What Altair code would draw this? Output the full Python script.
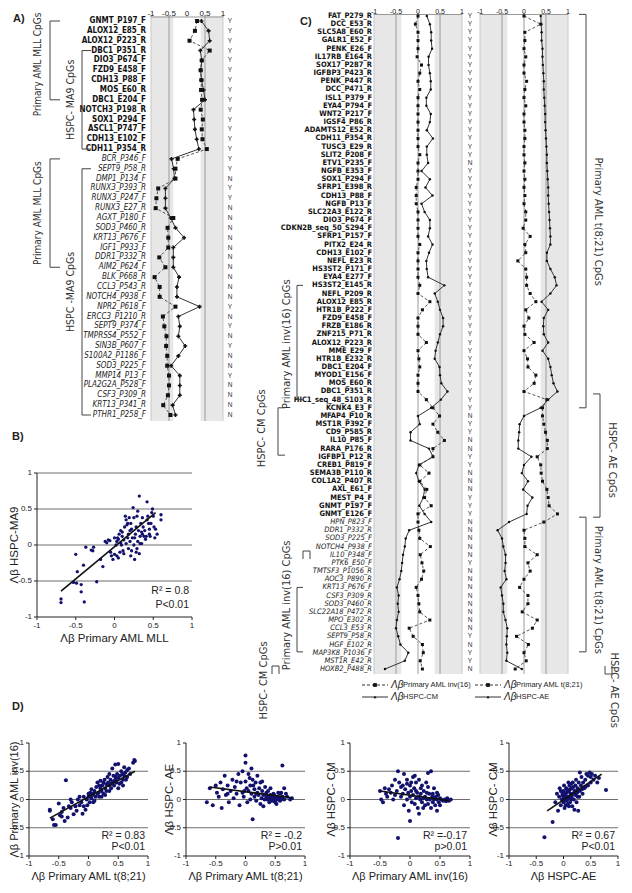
import altair as alt
import pandas as pd

OFF = 8
NARROW = "Liberation Sans Narrow, DejaVu Sans Condensed, Arial Narrow, sans-serif"
SANS = "Liberation Sans, Arial, Helvetica, sans-serif"
NAVY = "#12126e"
BAND = 0.38

tick_vals = [-1, -0.5, 0, 0.5, 1]
tick_labs = ["-1", "-0.5", "0", "0.5", "1"]

# ---------------- Panel A ----------------
a_genes = ["GNMT_P197_F", "ALOX12_E85_R", "ALOX12_P223_R", "DBC1_P351_R", "DIO3_P674_F", "FZD9_E458_F",
           "CDH13_P88_F", "MOS_E60_R", "DBC1_E204_F", "NOTCH3_P198_R", "SOX1_P294_F", "ASCL1_P747_F",
           "CDH13_E102_F", "CDH11_P354_R",
           "BCR_P346_F", "SEPT9_P58_R", "DMP1_P134_F", "RUNX3_P393_R", "RUNX3_P247_F", "RUNX3_E27_R",
           "AGXT_P180_F", "SOD3_P460_R", "KRT13_P676_F", "IGF1_P933_F", "DDR1_P332_R", "AIM2_P624_F",
           "BLK_P668_R", "CCL3_P543_R", "NOTCH4_P938_F", "NPR2_P618_F", "ERCC3_P1210_R", "SEPT9_P374_F",
           "TMPRSS4_P552_F", "SIN3B_P607_F", "S100A2_P1186_F", "SOD3_P225_F", "MMP14_P13_F",
           "PLA2G2A_P528_F", "CSF3_P309_R", "KRT13_P341_R", "PTHR1_P258_F"]
a_aml = [0.28, 0.22, 0.07, 0.63, 0.41, 0.38, 0.40, 0.39, 0.42, 0.38, 0.44, 0.41, 0.43, 0.55,
         -0.26, -0.32, -0.32, -0.80, -0.85, -0.87, -0.38, -0.54, -0.52, -0.52, -0.77, -0.60, -0.90,
         -0.76, -0.76, -0.32, -0.67, -0.63, -0.57, -0.58, -0.55, -0.55, -0.50, -0.50, -0.53, -0.66, -0.46]
a_hspc = [0.40, 0.60, 0.63, 0.37, 0.41, 0.38, 0.40, 0.46, 0.50, 0.18, 0.20, 0.22, 0.27, 0.33,
          -0.43, -0.37, -0.35, -0.60, -0.60, -0.60, -0.45, -0.32, -0.08, -0.38, -0.38, -0.38, -0.22,
          -0.28, -0.28, 0.35, -0.24, -0.20, -0.24, -0.05, -0.24, -0.44, -0.20, -0.20, -0.20, -0.40, -0.32]
a_sig = list("YYYYYYYYYYYYYY") + list("YYNYYNNNNNNNNNNYNYNYNNYNNNN")
a_groups = [("Primary AML MLL CpGs", 0, 8, "outer"), ("HSPC- MA9 CpGs", 3, 13, "inner"),
            ("Primary AML MLL CpGs", 14, 25, "outer"), ("HSPC -MA9 CpGs", 15, 40, "inner")]

# ---------------- Panel C ----------------
c_genes = ["FAT_P279_R", "DCC_E53_R", "SLC5A8_E60_R", "GALR1_E52_F", "PENK_E26_F", "IL17RB_E164_R",
           "SOX17_P287_R", "IGFBP3_P423_R", "PENK_P447_R", "DCC_P471_R",
           "ISL1_P379_F", "EYA4_P794_F", "WNT2_P217_F", "IGSF4_P86_R", "ADAMTS12_E52_R", "CDH11_P354_R",
           "TUSC3_E29_R", "SLIT2_P208_F", "ETV1_P235_F", "NGFB_E353_F",
           "SOX1_P294_F", "SFRP1_E398_R", "CDH13_P88_F", "NGFB_P13_F", "SLC22A3_E122_R", "DIO3_P674_F",
           "CDKN2B_seq_50_S294_F", "SFRP1_P157_F", "PITX2_E24_R", "CDH13_E102_F",
           "NEFL_E23_R", "HS3ST2_P171_F", "EYA4_E277_F", "HS3ST2_E145_R", "NEFL_P209_R", "ALOX12_E85_R",
           "HTR1B_P222_F", "FZD9_E458_F", "FRZB_E186_R", "ZNF215_P71_R",
           "ALOX12_P223_R", "MME_E29_F", "HTR1B_E232_R", "DBC1_E204_F", "MYOD1_E156_F", "MOS_E60_R",
           "DBC1_P351_R", "HIC1_seq_48_S103_R", "KCNK4_E3_F", "MFAP4_P10_R",
           "MST1R_P392_F", "CD9_P585_R", "IL10_P85_F", "RARA_P176_R", "IGFBP1_P12_R", "CREB1_P819_F",
           "SEMA3B_P110_R", "COL1A2_P407_R", "AXL_E61_F", "MEST_P4_F",
           "GNMT_P197_F", "GNMT_E126_F", "HPN_P823_F", "DDR1_P332_R", "SOD3_P225_F", "NOTCH4_P938_F",
           "IL10_P348_F", "PTK6_E50_F", "TMTSF3_P1056_R", "AOC3_P890_R",
           "KRT13_P676_F", "CSF3_P309_R", "SOD3_P460_R", "SLC22A18_P472_R", "MPO_E302_R", "CCL3_E53_R",
           "SEPT9_P58_R", "HGF_E102_R", "MAP3K8_P1036_F", "MST1R_E42_R",
           "HOXB2_P488_R"]
c_inv16 = [0.0, -0.06, 0.0, 0.0, 0.0, -0.02, 0.08, 0.04, 0.0, 0.04,
           0.0, 0.0, 0.0, 0.0, 0.0, 0.0, 0.0, 0.04, 0.0, 0.0,
           0.0, -0.04, -0.04, -0.04, 0.0, 0.0, 0.0, 0.0, 0.04, 0.0,
           0.0, 0.0, 0.0, 0.04, 0.0, 0.27, 0.10, 0.0, 0.0, 0.0,
           0.19, 0.0, 0.02, 0.04, 0.0, 0.0, 0.0, 0.19, 0.34, 0.49,
           0.34, 0.45, 0.60, 0.34, 0.34, 0.04, 0.25, 0.04, 0.20, 0.15,
           0.30, 0.0, 0.0, 0.02, 0.04, 0.28, 0.05, 0.09, 0.13, 0.08,
           -0.04, 0.0, 0.02, 0.04, 0.27, -0.20, -0.11, 0.10, 0.12, 0.05,
           0.10]
c_cm = [0.20, 0.27, 0.30, 0.30, 0.32, 0.24, 0.24, 0.27, 0.29, 0.29,
        0.19, 0.19, 0.29, 0.27, 0.20, 0.34, 0.20, 0.20, 0.23, 0.08,
        0.27, 0.17, 0.33, 0.08, 0.15, 0.27, 0.27, 0.23, 0.33, 0.25,
        0.19, 0.20, 0.23, 0.60, 0.38, 0.45, 0.50, 0.57, 0.57, 0.50,
        0.45, 0.40, 0.38, 0.49, 0.50, 0.53, 0.67, 0.52, 0.30, 0.0,
        0.04, -0.17, -0.17, 0.25, 0.34, 0.02, -0.04, 0.02, 0.15, 0.12,
        0.03, 0.15, 0.30, -0.20, -0.28, -0.30, -0.34, -0.36, -0.38, -0.42,
        -0.48, -0.44, -0.46, -0.44, -0.48, -0.50, -0.45, -0.40, -0.22, -0.30,
        -0.75]
c_t821 = [0.0, 0.38, 0.02, 0.02, 0.0, 0.04, 0.0, 0.0, 0.06, 0.02,
          0.0, 0.04, 0.0, 0.0, 0.02, 0.02, 0.0, 0.0, 0.02, 0.0,
          0.02, 0.0, 0.02, 0.0, 0.04, 0.04, -0.02, 0.14, 0.02, 0.04,
          -0.14, 0.04, 0.06, 0.06, 0.14, 0.27, 0.04, 0.11, 0.0, 0.02,
          0.23, 0.0, 0.08, 0.09, 0.27, 0.23, 0.0, 0.52, 0.42, 0.42,
          0.45, 0.49, 0.53, 0.53, 0.30, 0.38, 0.39, 0.42, 0.52, 0.55,
          0.57, 0.76, 0.45, 0.0, 0.02, 0.02, 0.30, 0.09, 0.14, 0.0,
          -0.10, 0.09, 0.09, -0.04, 0.30, 0.19, -0.17, 0.10, 0.0, 0.05,
          -0.20]
c_ae = [0.38, 0.39, 0.40, 0.40, 0.42, 0.42, 0.43, 0.44, 0.45, 0.45,
        0.46, 0.47, 0.48, 0.48, 0.49, 0.50, 0.51, 0.52, 0.52, 0.53,
        0.54, 0.55, 0.55, 0.56, 0.57, 0.58, 0.59, 0.60, 0.60, 0.52,
        0.52, 0.60, 0.70, 0.74, 0.60, 0.40, 0.55, 0.45, 0.44, 0.45,
        0.55, 0.42, 0.55, 0.60, 0.63, 0.67, 0.76, 0.55, 0.38, 0.0,
        -0.10, -0.11, -0.13, -0.13, 0.17, 0.0, -0.05, 0.09, -0.02, 0.19,
        0.08, 0.06, -0.34, -0.60, -0.50, -0.47, -0.42, -0.42, -0.44, -0.40,
        -0.53, -0.50, -0.47, -0.47, -0.42, -0.38, -0.39, -0.40, -0.38, -0.40,
        -0.05]
c_sig = list("YYYYYYYYYYYYYYYYYY") + ["N"] + ["Y"] * 30 + list("NYYNNYYNNNYYYNNNNNYNNNNNNNNYNYYN")
N_C_BOLD = 62

# ---------------- Scatter data ----------------
b_points = [(-0.69, -0.75), (-0.69, -0.80), (-0.43, -0.65), (-0.39, -0.79), (-0.49, -0.53), (-0.43, -0.55),
            (-0.53, -0.52), (-0.48, -0.37), (-0.50, -0.13), (-0.40, -0.28), (-0.37, -0.03), (-0.30, -0.07),
            (-0.27, -0.03), (-0.28, -0.08), (-0.23, -0.51), (-0.18, -0.20), (-0.15, -0.30), (-0.12, 0.05),
            (-0.10, 0.03), (-0.05, -0.10), (-0.04, -0.15), (-0.02, -0.20), (0.00, -0.13), (0.02, 0.00),
            (0.03, 0.05), (0.04, 0.10), (0.05, 0.08), (0.05, -0.18), (0.06, 0.15), (0.07, -0.10),
            (0.08, 0.03), (0.10, 0.12), (0.10, 0.18), (0.12, 0.07), (0.12, -0.12), (0.13, 0.25),
            (0.14, 0.40), (0.15, 0.35), (0.15, 0.02), (0.17, 0.10), (0.18, -0.05), (0.18, 0.15),
            (0.20, 0.20), (0.20, 0.05), (0.21, 0.30), (0.22, -0.08), (0.23, 0.10), (0.24, 0.52),
            (0.25, 0.38), (0.25, 0.00), (0.26, -0.20), (0.27, 0.15), (0.28, 0.25), (0.28, -0.10),
            (0.29, 0.40), (0.30, 0.05), (0.30, 0.47), (0.31, 0.20), (0.32, 0.68), (0.32, -0.12),
            (0.33, 0.12), (0.34, 0.30), (0.35, 0.18), (0.35, 0.02), (0.36, 0.15), (0.37, 0.25),
            (0.38, 0.12), (0.40, 0.08), (0.42, 0.60), (0.42, 0.35), (0.43, 0.40), (0.45, 0.15),
            (0.45, 0.22), (0.47, 0.30), (0.48, 0.45), (0.49, 0.50), (0.50, 0.40), (0.51, 0.25),
            (0.52, 0.10), (0.53, 0.22), (0.55, 0.15), (0.60, 0.42), (0.60, 0.35), (-0.08, 0.07),
            (0.00, 0.10), (0.08, 0.20), (0.16, 0.28), (0.19, 0.38), (0.11, -0.08), (-0.06, 0.06),
            (0.03, -0.15), (0.22, 0.22), (0.26, 0.10), (0.29, -0.05), (0.33, 0.02), (0.36, 0.38),
            (0.39, 0.20), (0.41, 0.12), (0.44, 0.30), (0.46, 0.12), (0.21, -0.15), (0.09, 0.00), (0.17, 0.30)]
b_fit = (-0.69, -0.64, 0.53, 0.45)

d1_points = [(-0.65, -0.18), (-0.65, -0.20), (-0.60, -0.35), (-0.58, -0.45), (-0.55, -0.45), (-0.50, -0.07),
             (-0.48, -0.28), (-0.45, -0.22), (-0.42, -0.15), (-0.40, -0.38), (-0.38, 0.34), (-0.35, -0.32),
             (-0.33, -0.12), (-0.30, -0.15), (-0.28, -0.05), (-0.25, -0.26), (-0.22, -0.12), (-0.20, -0.20),
             (-0.18, 0.00), (-0.15, -0.10), (-0.12, -0.05), (-0.10, -0.25), (-0.08, 0.05), (-0.05, -0.18),
             (-0.03, 0.00), (-0.02, -0.10), (0.00, 0.05), (0.00, 0.10), (0.02, -0.05), (0.03, 0.12),
             (0.05, 0.02), (0.05, 0.18), (0.07, 0.08), (0.08, -0.05), (0.10, 0.15), (0.12, 0.05),
             (0.13, 0.22), (0.15, 0.10), (0.15, 0.30), (0.17, 0.12), (0.18, 0.05), (0.20, 0.20),
             (0.20, 0.33), (0.22, 0.15), (0.23, 0.25), (0.25, 0.10), (0.25, 0.30), (0.27, 0.35),
             (0.28, 0.20), (0.30, 0.27), (0.30, 0.15), (0.32, 0.40), (0.33, 0.30), (0.35, 0.25),
             (0.35, 0.45), (0.37, 0.35), (0.38, 0.20), (0.40, 0.30), (0.40, 0.55), (0.42, 0.42),
             (0.43, 0.25), (0.45, 0.35), (0.45, 0.62), (0.47, 0.30), (0.48, 0.45), (0.50, 0.63),
             (0.50, 0.38), (0.52, 0.28), (0.53, 0.42), (0.55, 0.50), (0.55, 0.30), (0.57, 0.45),
             (0.58, 0.35), (0.60, 0.57), (0.60, 0.42), (0.62, 0.48), (0.63, 0.35), (0.65, 0.52),
             (0.65, 0.40), (0.68, 0.55), (0.70, 0.45), (0.75, 0.65), (0.77, 0.70), (0.78, 0.68),
             (-0.15, 0.05), (-0.08, -0.12), (0.02, 0.08), (0.10, -0.02), (0.18, 0.25), (0.28, 0.08),
             (0.35, 0.15), (0.42, 0.32), (0.50, 0.20), (0.58, 0.25), (-0.30, 0.00), (-0.45, -0.30),
             (0.08, 0.10), (0.22, 0.05), (0.38, 0.28), (0.46, 0.40)]
d1_fit = (-0.65, -0.33, 0.78, 0.50)

d2_points = [(-0.65, -0.05), (-0.60, 0.20), (-0.55, -0.10), (-0.50, 0.25), (-0.48, 0.12), (-0.45, 0.05),
             (-0.42, 0.30), (-0.40, -0.15), (-0.38, 0.18), (-0.35, 0.42), (-0.33, 0.08), (-0.30, 0.25),
             (-0.28, -0.05), (-0.25, 0.15), (-0.22, 0.35), (-0.20, 0.02), (-0.18, 0.22), (-0.15, 0.10),
             (-0.12, 0.45), (-0.10, -0.10), (-0.08, 0.30), (-0.05, 0.50), (-0.05, 0.12), (-0.03, 0.05),
             (0.00, 0.78), (0.00, 0.65), (0.00, 0.32), (0.02, 0.20), (0.03, -0.05), (0.05, 0.45),
             (0.05, 0.15), (0.07, 0.38), (0.08, 0.00), (0.10, 0.55), (0.10, 0.10), (0.12, -0.35),
             (0.13, 0.25), (0.15, 0.05), (0.15, 0.18), (0.17, 0.30), (0.18, -0.02), (0.20, 0.12),
             (0.20, 0.42), (0.22, 0.08), (0.23, 0.20), (0.25, -0.08), (0.25, 0.30), (0.27, 0.02),
             (0.28, 0.15), (0.30, 0.08), (0.30, -0.12), (0.32, 0.00), (0.33, 0.22), (0.35, 0.05),
             (0.35, 0.12), (0.37, 0.00), (0.38, 0.15), (0.40, 0.02), (0.40, -0.05), (0.42, 0.08),
             (0.43, 0.00), (0.45, 0.05), (0.45, -0.02), (0.47, 0.10), (0.48, 0.00), (0.50, 0.02),
             (0.50, -0.05), (0.52, 0.00), (0.53, 0.05), (0.55, 0.00), (0.55, 0.12), (0.57, 0.02),
             (0.58, -0.02), (0.60, 0.00), (0.62, 0.60), (0.62, 0.05), (0.65, 0.00), (0.65, 0.20),
             (0.68, 0.10), (0.70, 0.05), (0.75, 0.00), (0.78, 0.02), (-0.02, 0.15), (0.08, 0.25),
             (0.18, 0.10), (0.28, 0.32), (0.38, 0.05), (0.48, 0.08), (0.58, 0.10), (-0.15, 0.32),
             (-0.30, 0.10), (0.12, 0.35), (0.42, 0.20), (0.52, -0.08), (0.60, 0.12)]
d2_fit = (-0.60, 0.22, 0.78, 0.03)

d3_points = [(-0.50, 0.15), (-0.48, 0.00), (-0.45, -0.05), (-0.42, 0.20), (-0.40, 0.10), (-0.38, 0.05),
             (-0.35, 0.18), (-0.32, 0.12), (-0.30, 0.25), (-0.28, 0.00), (-0.25, 0.08), (-0.22, 0.15),
             (-0.20, 0.50), (-0.20, -0.68), (-0.18, 0.30), (-0.15, 0.05), (-0.15, 0.22), (-0.12, 0.10),
             (-0.10, 0.45), (-0.10, -0.10), (-0.08, 0.18), (-0.05, 0.35), (-0.05, 0.00), (-0.03, 0.12),
             (-0.02, -0.20), (0.00, -0.38), (0.00, 0.25), (0.00, 0.05), (0.02, 0.15), (0.03, -0.05),
             (0.05, 0.40), (0.05, 0.08), (0.07, 0.20), (0.08, -0.08), (0.10, 0.30), (0.10, 0.02),
             (0.12, 0.12), (0.13, -0.15), (0.15, 0.05), (0.15, 0.35), (0.17, 0.00), (0.18, 0.10),
             (0.20, -0.05), (0.20, 0.25), (0.22, 0.02), (0.23, 0.15), (0.25, -0.10), (0.25, 0.05),
             (0.27, 0.30), (0.28, 0.00), (0.30, 0.47), (0.30, -0.08), (0.32, 0.10), (0.33, 0.00),
             (0.35, 0.50), (0.35, -0.15), (0.37, 0.05), (0.38, -0.05), (0.40, 0.20), (0.40, 0.00),
             (0.42, -0.10), (0.43, 0.05), (0.45, 0.00), (0.45, -0.20), (0.47, 0.08), (0.48, -0.05),
             (0.50, 0.02), (0.50, -0.10), (0.52, 0.00), (0.55, -0.02), (0.58, 0.00), (0.60, -0.03),
             (0.62, 0.02), (0.65, -0.02), (0.68, 0.00), (-0.05, 0.28), (0.08, 0.42), (0.18, 0.20),
             (0.28, 0.12), (0.38, 0.10), (0.02, 0.30), (-0.25, 0.35), (0.15, -0.25), (0.30, 0.22),
             (0.45, 0.12), (0.10, 0.15), (-0.12, 0.25), (0.22, -0.15)]
d3_fit = (-0.50, 0.15, 0.65, -0.02)

d4_points = [(-0.35, -0.67), (-0.20, -0.40), (-0.15, -0.05), (-0.12, 0.10), (-0.10, -0.20), (-0.08, 0.05),
             (-0.05, 0.15), (-0.05, -0.10), (-0.03, 0.00), (-0.02, 0.08), (0.00, -0.05), (0.00, 0.05),
             (0.00, 0.15), (0.02, 0.00), (0.02, -0.15), (0.03, 0.10), (0.04, 0.05), (0.05, -0.02),
             (0.05, 0.20), (0.06, 0.12), (0.07, 0.00), (0.08, 0.05), (0.08, -0.08), (0.10, 0.15),
             (0.10, 0.02), (0.11, 0.25), (0.12, -0.05), (0.13, 0.10), (0.14, 0.00), (0.15, 0.20),
             (0.15, 0.05), (0.16, -0.12), (0.17, 0.30), (0.18, 0.10), (0.19, 0.00), (0.20, 0.15),
             (0.20, -0.18), (0.22, 0.08), (0.22, 0.25), (0.23, 0.35), (0.24, -0.05), (0.25, 0.12),
             (0.26, 0.20), (0.27, -0.20), (0.28, 0.30), (0.29, 0.05), (0.30, 0.48), (0.30, 0.15),
             (0.32, 0.25), (0.33, 0.40), (0.35, 0.10), (0.36, 0.30), (0.38, 0.20), (0.40, 0.35),
             (0.42, 0.45), (0.45, 0.25), (0.45, 0.42), (0.48, 0.48), (0.50, 0.30), (0.50, 0.40),
             (0.52, 0.45), (0.55, 0.35), (0.58, 0.42), (0.62, 0.30), (0.65, 0.38), (0.78, 0.17),
             (-0.07, 0.20), (0.01, 0.25), (0.09, 0.30), (0.04, -0.10), (0.12, 0.18), (0.18, 0.22),
             (0.26, 0.05), (0.34, 0.18), (0.40, 0.22), (0.06, 0.18), (0.14, 0.28), (-0.02, 0.12),
             (0.10, -0.12), (0.24, 0.15)]
d4_fit = (-0.30, -0.20, 0.70, 0.45)

# ---------------------------------------------------------------
layers = []
one = pd.DataFrame({"k": [0]})


def P(v):
    return v - OFF


def lin(d0, d1, p0, p1):
    return alt.Scale(domain=[d0, d1], range=[P(p0), P(p1)], nice=False, zero=False)


def text(t, x, y, size=11, angle=0, align="center", weight="normal", font=SANS, color="#222", style="normal",
         baseline="middle"):
    layers.append(alt.Chart(one).mark_text(text=t, fontSize=size, angle=angle, align=align, baseline=baseline,
                                           fontWeight=weight, font=font, color=color, fontStyle=style)
                  .encode(x=alt.value(P(x)), y=alt.value(P(y))))


def hrule(x0, x1, y, color="#444", dash=None, width=1):
    kw = dict(color=color, strokeWidth=width)
    if dash:
        kw["strokeDash"] = dash
    layers.append(alt.Chart(one).mark_rule(**kw).encode(x=alt.value(P(x0)), x2=alt.value(P(x1)),
                                                         y=alt.value(P(y))))


def vrule(x, y0, y1, color="#444", width=1):
    layers.append(alt.Chart(one).mark_rule(color=color, strokeWidth=width).encode(
        x=alt.value(P(x)), y=alt.value(P(y0)), y2=alt.value(P(y1))))


def bracket(ys, r0, r1, x, dx, color="#444"):
    seg = pd.DataFrame({"r0": [r0], "r1": [r1]})
    layers.append(alt.Chart(seg).mark_rule(color=color, strokeWidth=1).encode(
        x=alt.value(P(x)), y=alt.Y("r0:Q", scale=ys, axis=None), y2=alt.Y2("r1")))
    ends = pd.DataFrame({"r": [r0, r1]})
    layers.append(alt.Chart(ends).mark_rule(color=color, strokeWidth=1).encode(
        x=alt.value(P(x)), x2=alt.value(P(x + dx)), y=alt.Y("r:Q", scale=ys, axis=None)))


def row_text(ys, t, r, x, angle, size=11):
    d = pd.DataFrame({"r": [r], "t": [t]})
    layers.append(alt.Chart(d).mark_text(fontSize=size, angle=angle, font=NARROW, color="#333",
                                         align="center", baseline="middle").encode(
        x=alt.value(P(x)), y=alt.Y("r:Q", scale=ys, axis=None), text="t:N"))


def profile(df, n, xp, ys, dash_col, solid_col, grid_vals, axis_y, lab_y, lab_size, r_top,
            solid_shape, solid_size, sq_size):
    xs = lin(-1, 1, xp[0], xp[1])
    band = pd.DataFrame({"a": [-1, BAND], "b": [-BAND, 1], "r0": [r_top, r_top], "r1": [n - 0.4, n - 0.4]})
    layers.append(alt.Chart(band).mark_rect(color="#e7e7e7").encode(
        x=alt.X("a:Q", scale=xs, axis=None), x2=alt.X2("b"),
        y=alt.Y("r0:Q", scale=ys, axis=None), y2=alt.Y2("r1")))
    edge = pd.DataFrame({"v": [-1, 1], "r0": [r_top, r_top], "r1": [n - 0.4, n - 0.4]})
    layers.append(alt.Chart(edge).mark_rule(color="#c8c8c8", strokeWidth=1).encode(
        x=alt.X("v:Q", scale=xs, axis=None), y=alt.Y("r0:Q", scale=ys, axis=None), y2=alt.Y2("r1")))
    grid = pd.DataFrame({"v": grid_vals, "r0": [r_top] * len(grid_vals), "r1": [n - 0.4] * len(grid_vals)})
    layers.append(alt.Chart(grid).mark_rule(color="#9a9a9a", strokeWidth=1).encode(
        x=alt.X("v:Q", scale=xs, axis=None), y=alt.Y("r0:Q", scale=ys, axis=None), y2=alt.Y2("r1")))
    ticks = pd.DataFrame({"v": tick_vals, "lab": tick_labs})
    axl = pd.DataFrame({"a": [-1], "b": [1]})
    layers.append(alt.Chart(axl).mark_rule(color="#999", strokeWidth=1).encode(
        x=alt.X("a:Q", scale=xs, axis=None), x2=alt.X2("b"), y=alt.value(P(axis_y))))
    layers.append(alt.Chart(ticks).mark_rule(color="#999", strokeWidth=1).encode(
        x=alt.X("v:Q", scale=xs, axis=None), y=alt.value(P(axis_y - 2)), y2=alt.value(P(axis_y))))
    layers.append(alt.Chart(ticks).mark_text(fontSize=lab_size, font=SANS, color="#222",
                                             baseline="alphabetic").encode(
        x=alt.X("v:Q", scale=xs, axis=None), y=alt.value(P(lab_y)), text="lab:N"))
    layers.append(alt.Chart(df).mark_line(color="#444", strokeWidth=0.9, strokeDash=[3, 2]).encode(
        x=alt.X(dash_col + ":Q", scale=xs, axis=None), y=alt.Y("row:Q", scale=ys, axis=None), order="row:Q"))
    layers.append(alt.Chart(df).mark_square(color="#111", size=sq_size, opacity=1).encode(
        x=alt.X(dash_col + ":Q", scale=xs, axis=None), y=alt.Y("row:Q", scale=ys, axis=None)))
    layers.append(alt.Chart(df).mark_line(color="#333", strokeWidth=1).encode(
        x=alt.X(solid_col + ":Q", scale=xs, axis=None), y=alt.Y("row:Q", scale=ys, axis=None), order="row:Q"))
    layers.append(alt.Chart(df).mark_point(shape=solid_shape, size=solid_size, filled=True, color="#111",
                                           opacity=1).encode(
        x=alt.X(solid_col + ":Q", scale=xs, axis=None), y=alt.Y("row:Q", scale=ys, axis=None)))


def scatter(points, fit, xp, yp, r2, pv, ytitle, xtitle, ytitle_x, top_grid, pt_size, tsize=11.5,
            xt_dy=22, xt_size=11.5, tl_dy=5):
    xs = lin(-1, 1, xp[0], xp[1])
    ys = lin(-1, 1, yp[1], yp[0])
    gv = [0.5, 0, -0.5] + ([1] if top_grid else [])
    grid = pd.DataFrame({"v": gv, "a": [-1.0] * len(gv), "b": [1.0] * len(gv)})
    layers.append(alt.Chart(grid).mark_rule(color="#6e6e6e", strokeWidth=1).encode(
        y=alt.Y("v:Q", scale=ys, axis=None), x=alt.X("a:Q", scale=xs, axis=None), x2=alt.X2("b")))
    frame = pd.DataFrame({"x1": [-1, -1], "y1": [-1, -1], "x2": [-1, 1], "y2": [1, -1]})
    layers.append(alt.Chart(frame).mark_rule(color="#222", strokeWidth=1).encode(
        x=alt.X("x1:Q", scale=xs, axis=None), y=alt.Y("y1:Q", scale=ys, axis=None),
        x2=alt.X2("x2"), y2=alt.Y2("y2")))
    ticks = pd.DataFrame({"v": tick_vals, "lab": tick_labs})
    layers.append(alt.Chart(ticks).mark_rule(color="#222").encode(
        y=alt.Y("v:Q", scale=ys, axis=None), x=alt.value(P(xp[0] - 3)), x2=alt.value(P(xp[0]))))
    layers.append(alt.Chart(ticks).mark_rule(color="#222").encode(
        x=alt.X("v:Q", scale=xs, axis=None), y=alt.value(P(yp[1])), y2=alt.value(P(yp[1] + 3))))
    layers.append(alt.Chart(ticks).mark_text(align="right", baseline="middle", font=SANS, fontSize=8,
                                             color="#222").encode(
        y=alt.Y("v:Q", scale=ys, axis=None), x=alt.value(P(xp[0] - 5)), text="lab:N"))
    layers.append(alt.Chart(ticks).mark_text(align="center", baseline="top", font=SANS, fontSize=8,
                                             color="#222").encode(
        x=alt.X("v:Q", scale=xs, axis=None), y=alt.value(P(yp[1] + tl_dy)), text="lab:N"))
    pts = pd.DataFrame(points, columns=["x", "y"])
    layers.append(alt.Chart(pts).mark_circle(size=pt_size, color=NAVY, opacity=1).encode(
        x=alt.X("x:Q", scale=xs, axis=None), y=alt.Y("y:Q", scale=ys, axis=None)))
    fd = pd.DataFrame([fit], columns=["x1", "y1", "x2", "y2"])
    layers.append(alt.Chart(fd).mark_rule(color="#111", strokeWidth=1.6).encode(
        x=alt.X("x1:Q", scale=xs, axis=None), y=alt.Y("y1:Q", scale=ys, axis=None),
        x2=alt.X2("x2"), y2=alt.Y2("y2")))
    td = pd.DataFrame({"y": [-0.64, -0.84], "t": [r2, pv]})
    layers.append(alt.Chart(td).mark_text(align="right", baseline="middle", font=SANS, fontSize=10.5,
                                          color="#222").encode(
        y=alt.Y("y:Q", scale=ys, axis=None), x=alt.value(P(xp[1] - 3)), text="t:N"))
    text(ytitle, ytitle_x, (yp[0] + yp[1]) / 2, size=tsize, angle=270)
    text(xtitle, (xp[0] + xp[1]) / 2, yp[1] + xt_dy, size=xt_size)


# ---------------- Panel A build ----------------
dfA = pd.DataFrame({"gene": a_genes, "row": list(range(len(a_genes))), "aml": a_aml, "hspc": a_hspc,
                    "sig": a_sig})
nA = len(a_genes)
ysA = lin(0, nA - 1, 21, 415)
profile(dfA, nA, (151, 223), ysA, "aml", "hspc", [-0.5, 0.5], 17, 15.5, 8, -0.5, "cross", 16, 16)
layers.append(alt.Chart(dfA.iloc[:14]).mark_text(align="right", baseline="middle", font=NARROW, fontSize=8,
                                                  fontWeight="bold", color="#111").encode(
    x=alt.value(P(146)), y=alt.Y("row:Q", scale=ysA, axis=None), text="gene:N"))
layers.append(alt.Chart(dfA.iloc[14:]).mark_text(align="right", baseline="middle", font=NARROW, fontSize=8,
                                                  fontStyle="italic", color="#222").encode(
    x=alt.value(P(146)), y=alt.Y("row:Q", scale=ysA, axis=None), text="gene:N"))
layers.append(alt.Chart(dfA).mark_text(baseline="middle", font=SANS, fontSize=6.5, color="#333").encode(
    x=alt.value(P(230)), y=alt.Y("row:Q", scale=ysA, axis=None), text="sig:N"))
for label, r0, r1, kind in a_groups:
    if kind == "outer":
        bracket(ysA, r0, r1, 50, 10)
        mid = (r0 + r1) / 2 + (0.4 if r0 == 0 else 0)
        row_text(ysA, label, mid, 38, 270, size=10)
    else:
        bracket(ysA, r0, r1, 82, 9)
        row_text(ysA, label, (r0 + r1) / 2, 71, 270, size=10.5)
text("A)", 13, 19, size=11, weight="bold", align="left")

# ---------------- Panel B ----------------
text("B)", 12, 437, size=11, weight="bold", align="left")
scatter(b_points, b_fit, (37, 192), (473, 617), "R\u00b2 = 0.8", "P<0.01", "\u039b\u03b2 HSPC-MA9",
        "\u039b\u03b2 Primary AML  MLL", 15, True, 11)

# ---------------- Panel C build ----------------
nC = len(c_genes)
dfC = pd.DataFrame({"gene": c_genes, "row": list(range(nC)), "inv16": c_inv16, "cm": c_cm, "t821": c_t821,
                    "ae": c_ae, "sig": c_sig})
ysC = lin(0, nC - 1, 16, 669)
profile(dfC, nC, (374, 462), ysC, "inv16", "cm", [-0.5, 0, 0.5], 14.5, 13.6, 7, -0.2, "circle", 6, 9)
profile(dfC, nC, (480, 568), ysC, "t821", "ae", [-0.5, 0, 0.5], 14.5, 13.6, 7, -0.2, "circle", 6, 9)
layers.append(alt.Chart(dfC.iloc[:N_C_BOLD]).mark_text(align="right", baseline="middle", font=NARROW,
                                                        fontSize=7.5, fontWeight="bold", color="#111").encode(
    x=alt.value(P(372)), y=alt.Y("row:Q", scale=ysC, axis=None), text="gene:N"))
layers.append(alt.Chart(dfC.iloc[N_C_BOLD:]).mark_text(align="right", baseline="middle", font=NARROW,
                                                        fontSize=7.5, fontStyle="italic", color="#222").encode(
    x=alt.value(P(372)), y=alt.Y("row:Q", scale=ysC, axis=None), text="gene:N"))
layers.append(alt.Chart(dfC).mark_text(baseline="middle", font=SANS, fontSize=6.5, color="#333").encode(
    x=alt.value(P(470)), y=alt.Y("row:Q", scale=ysC, axis=None), text="sig:N"))
text("C)", 300, 22, size=11, weight="bold", align="left")

# left brackets of C
bracket(ysC, 33, 47, 297, 6)
row_text(ysC, "Primary AML inv(16) CpGs", 40.2, 287, 270)
bracket(ysC, 48, 53.8, 278, 7)
row_text(ysC, "HSPC- CM CpGs", 50.5, 262, 270)
bracket(ysC, 70, 77.9, 297, 6)
row_text(ysC, "Primary AML inv(16) CpGs", 72.2, 287, 270)
row_text(ysC, "HSPC- CM CpGs", 81.4, 264, 270)
# small brackets
hrule(303, 310, 551, color="#444")
vrule(303, 551, 559, color="#444")
vrule(310, 551, 559, color="#444")
hrule(272, 279, 666, color="#444")
vrule(272, 666, 674, color="#444")
vrule(279, 666, 674, color="#444")
# right brackets of C
bracket(ysC, -0.2, 48, 586, -7)
row_text(ysC, "Primary AML t(8;21) CpGs", 25.2, 598, 90)
bracket(ysC, 46.3, 61.4, 600, -7)
row_text(ysC, "HSPC- AE CpGs", 54.4, 612, 90)
bracket(ysC, 61.4, 77.9, 586, -7)
row_text(ysC, "Primary AML t(8;21) CpGs", 70.3, 598, 90)
hrule(605, 612, 674, color="#444")
vrule(605, 666, 674, color="#444")
vrule(612, 666, 674, color="#444")
row_text(ysC, "HSPC- AE CpGs", 82.6, 614, 90)

# legend of C
for lx, ly, dashed, lab in [(362, 685, True, "Primary AML inv(16)"), (475, 685, True, "Primary AML t(8;21)"),
                            (362, 697, False, "HSPC-CM"), (475, 697, False, "HSPC-AE")]:
    if dashed:
        hrule(lx, lx + 26, ly, color="#333", dash=[3, 2])
        layers.append(alt.Chart(one).mark_square(size=14, color="#111", opacity=1).encode(
            x=alt.value(P(lx + 13)), y=alt.value(P(ly))))
    else:
        hrule(lx, lx + 26, ly, color="#333")
        layers.append(alt.Chart(one).mark_point(shape="triangle-up", size=10, filled=True, color="#111",
                                                opacity=1).encode(x=alt.value(P(lx + 13)), y=alt.value(P(ly))))
    text("\u039b\u03b2", lx + 29, ly, size=10, align="left", style="italic")
    text(lab, lx + 41, ly, size=7.5, align="left")

# ---------------- Panel D ----------------
text("D)", 12, 707, size=11, weight="bold", align="left")
D_Y = (743, 856)
DKW = dict(xt_dy=21, xt_size=11, tl_dy=4)
scatter(d1_points, d1_fit, (29, 148), D_Y, "R\u00b2 = 0.83", "P<0.01", "\u039b\u03b2 Primary AML  inv(16)",
        "\u039b\u03b2 Primary  AML t(8;21)", 15, False, 16, tsize=11, **DKW)
scatter(d2_points, d2_fit, (186, 305), D_Y, "R\u00b2 = -0.2", "P>0.01", "\u039b\u03b2 HSPC- AE",
        "\u039b\u03b2 Primary AML t(8;21)", 170, False, 16, **DKW)
scatter(d3_points, d3_fit, (350, 470), D_Y, "R\u00b2 =-0.17", "p>0.01", "\u039b\u03b2 HSPC- CM",
        "\u039b\u03b2 Primary AML  inv(16)", 332, False, 16, **DKW)
scatter(d4_points, d4_fit, (509, 618), D_Y, "R\u00b2 = 0.67", "P<0.01", "\u039b\u03b2 HSPC- CM",
        "\u039b\u03b2 HSPC-AE", 494, False, 16, **DKW)

chart = alt.layer(*layers).resolve_scale(x="independent", y="independent").properties(
    width=616, height=877, autosize=alt.AutoSizeParams(type="none"), padding=0
).configure_view(stroke=None)

chart.save("out.html", embed_options={"renderer": "svg", "actions": False})
